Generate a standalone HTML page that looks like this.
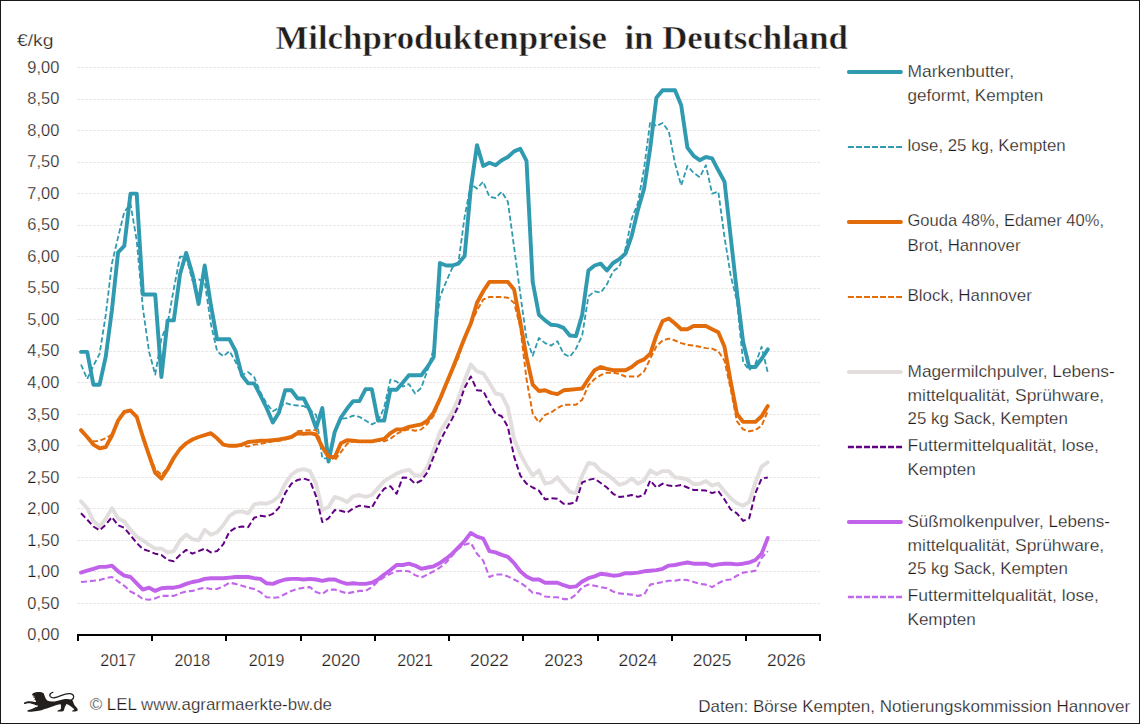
<!DOCTYPE html>
<html><head><meta charset="utf-8"><title>Milchproduktenpreise in Deutschland</title>
<style>
html,body{margin:0;padding:0;background:#fff;}
body{width:1140px;height:724px;overflow:hidden;}
svg{display:block;}
text{font-family:"Liberation Sans",sans-serif;fill:#1f1b19;stroke:#fff;stroke-width:0.25px;}
.t{font-family:"Liberation Serif",serif;font-weight:700;fill:#221e1b;stroke:#fff;stroke-width:0.5px;}
.ln{fill:none;stroke-linejoin:round;stroke-linecap:round;}
.ds{fill:none;stroke-linejoin:round;stroke-linecap:butt;}
</style></head><body>
<svg width="1140" height="724" viewBox="0 0 1140 724">
<rect x="0" y="0" width="1140" height="724" fill="#fff"/>

<g stroke="#ebe8e7" stroke-width="1" stroke-dasharray="3 1" shape-rendering="crispEdges">
<line x1="77" y1="603.5" x2="821" y2="603.5"/>
<line x1="77" y1="571.5" x2="821" y2="571.5"/>
<line x1="77" y1="540.5" x2="821" y2="540.5"/>
<line x1="77" y1="508.5" x2="821" y2="508.5"/>
<line x1="77" y1="477.5" x2="821" y2="477.5"/>
<line x1="77" y1="445.5" x2="821" y2="445.5"/>
<line x1="77" y1="414.5" x2="821" y2="414.5"/>
<line x1="77" y1="382.5" x2="821" y2="382.5"/>
<line x1="77" y1="351.5" x2="821" y2="351.5"/>
<line x1="77" y1="319.5" x2="821" y2="319.5"/>
<line x1="77" y1="288.5" x2="821" y2="288.5"/>
<line x1="77" y1="256.5" x2="821" y2="256.5"/>
<line x1="77" y1="225.5" x2="821" y2="225.5"/>
<line x1="77" y1="193.5" x2="821" y2="193.5"/>
<line x1="77" y1="162.5" x2="821" y2="162.5"/>
<line x1="77" y1="130.5" x2="821" y2="130.5"/>
<line x1="77" y1="99.5" x2="821" y2="99.5"/>
<line x1="77" y1="67.5" x2="821" y2="67.5"/>
</g>
<g font-size="15.9">
<text x="27.3" y="640.2" textLength="32.0" lengthAdjust="spacingAndGlyphs">0,00</text>
<text x="27.3" y="608.7" textLength="32.0" lengthAdjust="spacingAndGlyphs">0,50</text>
<text x="27.3" y="577.1" textLength="32.0" lengthAdjust="spacingAndGlyphs">1,00</text>
<text x="27.3" y="545.6" textLength="32.0" lengthAdjust="spacingAndGlyphs">1,50</text>
<text x="27.3" y="514.1" textLength="32.0" lengthAdjust="spacingAndGlyphs">2,00</text>
<text x="27.3" y="482.6" textLength="32.0" lengthAdjust="spacingAndGlyphs">2,50</text>
<text x="27.3" y="451.0" textLength="32.0" lengthAdjust="spacingAndGlyphs">3,00</text>
<text x="27.3" y="419.5" textLength="32.0" lengthAdjust="spacingAndGlyphs">3,50</text>
<text x="27.3" y="388.0" textLength="32.0" lengthAdjust="spacingAndGlyphs">4,00</text>
<text x="27.3" y="356.4" textLength="32.0" lengthAdjust="spacingAndGlyphs">4,50</text>
<text x="27.3" y="324.9" textLength="32.0" lengthAdjust="spacingAndGlyphs">5,00</text>
<text x="27.3" y="293.4" textLength="32.0" lengthAdjust="spacingAndGlyphs">5,50</text>
<text x="27.3" y="261.9" textLength="32.0" lengthAdjust="spacingAndGlyphs">6,00</text>
<text x="27.3" y="230.3" textLength="32.0" lengthAdjust="spacingAndGlyphs">6,50</text>
<text x="27.3" y="198.8" textLength="32.0" lengthAdjust="spacingAndGlyphs">7,00</text>
<text x="27.3" y="167.3" textLength="32.0" lengthAdjust="spacingAndGlyphs">7,50</text>
<text x="27.3" y="135.8" textLength="32.0" lengthAdjust="spacingAndGlyphs">8,00</text>
<text x="27.3" y="104.2" textLength="32.0" lengthAdjust="spacingAndGlyphs">8,50</text>
<text x="27.3" y="72.7" textLength="32.0" lengthAdjust="spacingAndGlyphs">9,00</text>
</g>
<text x="17" y="46" font-size="16" textLength="36.5" lengthAdjust="spacingAndGlyphs">€/kg</text>
<path class="ln" d="M81.0,351.9 L87.2,351.9 L93.4,384.7 L99.6,384.7 L105.7,356.9 L111.9,310.3 L118.1,252.3 L124.3,245.9 L130.5,193.6 L136.7,193.6 L142.9,294.5 L149.1,294.5 L155.2,294.5 L161.4,377.1 L167.6,320.4 L173.8,320.4 L180.0,274.3 L186.2,252.9 L192.4,273.7 L198.6,304.0 L204.7,265.5 L210.9,305.2 L217.1,339.3 L223.3,339.3 L229.5,339.3 L235.7,351.2 L241.9,375.2 L248.1,383.4 L254.2,383.4 L260.4,395.4 L266.6,408.0 L272.8,422.5 L279.0,412.4 L285.2,390.3 L291.4,390.3 L297.6,398.5 L303.7,398.5 L309.9,410.5 L316.1,428.2 L322.3,408.0 L328.5,461.6 L334.7,432.0 L340.9,417.5 L347.1,408.6 L353.2,401.1 L359.4,401.1 L365.6,389.1 L371.8,389.1 L378.0,420.6 L384.2,420.6 L390.4,389.7 L396.6,389.7 L402.7,382.8 L408.9,375.2 L415.1,375.2 L421.3,375.2 L427.5,367.0 L433.7,356.9 L439.9,263.0 L446.1,265.5 L452.2,265.5 L458.4,263.6 L464.6,256.0 L470.8,188.6 L477.0,145.1 L483.2,165.9 L489.4,162.7 L495.6,165.2 L501.7,160.2 L507.9,157.0 L514.1,151.4 L520.3,148.8 L526.5,160.8 L532.7,281.9 L538.9,314.7 L545.1,320.4 L551.2,324.8 L557.4,325.4 L563.6,327.9 L569.8,335.5 L576.0,336.1 L582.2,314.7 L588.4,270.5 L594.6,265.5 L600.7,263.6 L606.9,270.5 L613.1,263.0 L619.3,259.2 L625.5,253.5 L631.7,235.9 L637.9,210.0 L644.1,188.6 L650.2,148.2 L656.4,97.8 L662.6,90.2 L668.8,90.2 L675.0,90.2 L681.2,105.3 L687.4,147.6 L693.6,155.8 L699.7,160.2 L705.9,157.0 L712.1,158.3 L718.3,170.3 L724.5,181.6 L730.7,237.1 L736.9,292.0 L743.1,341.8 L749.2,367.0 L755.4,367.0 L761.6,358.8 L767.8,349.4" stroke="#2f9ab0" stroke-width="3.9"/>
<path class="ds" d="M81.0,364.5 L87.2,379.0 L93.4,365.8 L99.6,353.8 L105.7,315.3 L111.9,263.6 L118.1,237.1 L124.3,211.9 L130.5,203.7 L136.7,240.3 L142.9,308.4 L149.1,351.9 L155.2,374.6 L161.4,338.6 L167.6,323.5 L173.8,288.8 L180.0,256.7 L186.2,256.7 L192.4,280.6 L198.6,279.4 L204.7,281.9 L210.9,324.1 L217.1,351.2 L223.3,356.3 L229.5,351.2 L235.7,362.0 L241.9,375.2 L248.1,372.1 L254.2,377.1 L260.4,392.2 L266.6,403.6 L272.8,411.2 L279.0,408.0 L285.2,403.0 L291.4,404.8 L297.6,405.5 L303.7,406.1 L309.9,409.9 L316.1,414.9 L322.3,458.4 L328.5,458.4 L334.7,433.2 L340.9,418.7 L347.1,418.1 L353.2,415.6 L359.4,416.8 L365.6,420.6 L371.8,424.4 L378.0,421.2 L384.2,407.4 L390.4,379.6 L396.6,381.5 L402.7,386.6 L408.9,384.0 L415.1,393.5 L421.3,387.8 L427.5,370.2 L433.7,348.7 L439.9,297.0 L446.1,281.9 L452.2,268.0 L458.4,263.0 L464.6,216.9 L470.8,184.2 L477.0,188.6 L483.2,181.6 L489.4,196.8 L495.6,198.0 L501.7,191.7 L507.9,201.8 L514.1,247.2 L520.3,293.9 L526.5,338.6 L532.7,355.7 L538.9,338.0 L545.1,343.1 L551.2,345.6 L557.4,341.2 L563.6,353.8 L569.8,356.9 L576.0,348.7 L582.2,335.5 L588.4,296.4 L594.6,291.3 L600.7,292.6 L606.9,284.4 L613.1,271.2 L619.3,266.8 L625.5,248.5 L631.7,218.8 L637.9,203.1 L644.1,168.4 L650.2,121.7 L656.4,126.1 L662.6,123.0 L668.8,131.2 L675.0,163.3 L681.2,185.4 L687.4,165.9 L693.6,172.8 L699.7,177.2 L705.9,165.2 L712.1,193.6 L718.3,191.7 L724.5,237.1 L730.7,275.6 L736.9,300.8 L743.1,362.0 L749.2,370.2 L755.4,363.9 L761.6,346.8 L767.8,372.7" stroke="#2f9ab0" stroke-width="1.8" stroke-dasharray="5.3 2.6"/>
<path class="ln" d="M81.0,430.1 L87.2,437.0 L93.4,444.6 L99.6,448.4 L105.7,447.1 L111.9,435.7 L118.1,420.6 L124.3,411.8 L130.5,410.5 L136.7,416.8 L142.9,437.0 L149.1,455.3 L155.2,472.9 L161.4,478.6 L167.6,469.2 L173.8,457.8 L180.0,449.0 L186.2,443.3 L192.4,439.5 L198.6,437.0 L204.7,435.1 L210.9,433.2 L217.1,438.3 L223.3,444.6 L229.5,445.8 L235.7,445.8 L241.9,444.6 L248.1,442.0 L254.2,441.4 L260.4,440.8 L266.6,440.8 L272.8,440.2 L279.0,439.5 L285.2,438.3 L291.4,437.0 L297.6,433.2 L303.7,433.9 L309.9,433.2 L316.1,434.5 L322.3,447.1 L328.5,456.6 L334.7,457.2 L340.9,443.3 L347.1,440.2 L353.2,440.8 L359.4,441.4 L365.6,441.4 L371.8,441.4 L378.0,440.2 L384.2,438.9 L390.4,433.2 L396.6,429.4 L402.7,429.4 L408.9,426.9 L415.1,425.7 L421.3,424.4 L427.5,420.6 L433.7,412.4 L439.9,399.2 L446.1,384.0 L452.2,369.5 L458.4,353.8 L464.6,338.0 L470.8,323.5 L477.0,302.7 L483.2,291.3 L489.4,281.9 L495.6,281.9 L501.7,281.9 L507.9,281.9 L514.1,289.5 L520.3,322.2 L526.5,356.9 L532.7,384.7 L538.9,391.0 L545.1,390.3 L551.2,392.9 L557.4,394.1 L563.6,390.3 L569.8,389.7 L576.0,389.1 L582.2,388.5 L588.4,379.0 L594.6,370.2 L600.7,367.0 L606.9,368.9 L613.1,370.2 L619.3,370.2 L625.5,370.2 L631.7,367.0 L637.9,362.0 L644.1,359.4 L650.2,353.8 L656.4,335.5 L662.6,321.0 L668.8,318.5 L675.0,323.5 L681.2,329.2 L687.4,329.2 L693.6,326.0 L699.7,326.0 L705.9,326.0 L712.1,329.2 L718.3,332.3 L724.5,346.8 L730.7,381.5 L736.9,413.7 L743.1,421.9 L749.2,421.9 L755.4,421.9 L761.6,416.2 L767.8,406.1" stroke="#e36c0a" stroke-width="3.9"/>
<path class="ds" d="M81.0,430.1 L87.2,437.0 L93.4,441.4 L99.6,440.8 L105.7,438.3 L111.9,434.5 L118.1,420.6 L124.3,411.8 L130.5,410.5 L136.7,416.8 L142.9,437.0 L149.1,454.0 L155.2,469.2 L161.4,474.8 L167.6,467.9 L173.8,457.8 L180.0,449.0 L186.2,443.3 L192.4,439.5 L198.6,437.0 L204.7,435.1 L210.9,433.2 L217.1,438.3 L223.3,444.6 L229.5,445.8 L235.7,446.5 L241.9,445.8 L248.1,446.5 L254.2,444.6 L260.4,443.9 L266.6,442.7 L272.8,441.4 L279.0,440.8 L285.2,439.5 L291.4,437.6 L297.6,431.3 L303.7,430.7 L309.9,430.1 L316.1,430.1 L322.3,445.8 L328.5,455.3 L334.7,460.3 L340.9,452.1 L347.1,443.9 L353.2,441.4 L359.4,441.4 L365.6,441.4 L371.8,441.4 L378.0,440.8 L384.2,441.4 L390.4,438.9 L396.6,433.9 L402.7,430.7 L408.9,429.4 L415.1,430.7 L421.3,429.4 L427.5,423.8 L433.7,415.6 L439.9,400.4 L446.1,385.9 L452.2,371.4 L458.4,357.6 L464.6,337.4 L470.8,324.8 L477.0,310.3 L483.2,299.5 L489.4,297.0 L495.6,297.0 L501.7,297.0 L507.9,297.7 L514.1,302.7 L520.3,327.3 L526.5,379.0 L532.7,413.7 L538.9,422.5 L545.1,414.9 L551.2,412.4 L557.4,408.0 L563.6,404.8 L569.8,404.8 L576.0,404.8 L582.2,399.8 L588.4,385.3 L594.6,379.0 L600.7,375.2 L606.9,372.7 L613.1,372.7 L619.3,373.9 L625.5,376.5 L631.7,376.5 L637.9,376.5 L644.1,371.4 L650.2,358.8 L656.4,346.2 L662.6,340.5 L668.8,338.6 L675.0,340.5 L681.2,343.1 L687.4,344.9 L693.6,345.6 L699.7,346.8 L705.9,348.1 L712.1,348.7 L718.3,351.2 L724.5,360.7 L730.7,389.1 L736.9,421.2 L743.1,429.4 L749.2,431.3 L755.4,430.1 L761.6,425.7 L767.8,411.2" stroke="#e36c0a" stroke-width="1.95" stroke-dasharray="5.4 2.6"/>
<path class="ln" d="M81.0,501.3 L87.2,508.3 L93.4,520.9 L99.6,526.5 L105.7,519.0 L111.9,508.3 L118.1,518.3 L124.3,521.5 L130.5,529.7 L136.7,536.6 L142.9,540.4 L149.1,544.8 L155.2,548.6 L161.4,548.6 L167.6,552.4 L173.8,551.1 L180.0,540.4 L186.2,534.7 L192.4,539.2 L198.6,540.4 L204.7,529.7 L210.9,534.7 L217.1,532.2 L223.3,525.3 L229.5,515.8 L235.7,512.0 L241.9,511.4 L248.1,513.3 L254.2,504.5 L260.4,503.2 L266.6,503.8 L272.8,501.3 L279.0,496.3 L285.2,483.7 L291.4,474.8 L297.6,470.4 L303.7,469.2 L309.9,471.1 L316.1,483.7 L322.3,510.1 L328.5,507.0 L334.7,496.9 L340.9,498.8 L347.1,502.0 L353.2,496.3 L359.4,495.0 L365.6,496.9 L371.8,495.0 L378.0,488.1 L384.2,481.1 L390.4,477.4 L396.6,473.6 L402.7,471.1 L408.9,469.8 L415.1,475.5 L421.3,475.5 L427.5,466.6 L433.7,450.2 L439.9,432.0 L446.1,421.9 L452.2,412.4 L458.4,398.5 L464.6,380.3 L470.8,364.5 L477.0,371.4 L483.2,373.3 L489.4,382.8 L495.6,393.5 L501.7,394.8 L507.9,407.4 L514.1,438.9 L520.3,454.0 L526.5,465.4 L532.7,475.5 L538.9,470.4 L545.1,483.7 L551.2,482.4 L557.4,477.4 L563.6,484.9 L569.8,491.9 L576.0,493.1 L582.2,475.5 L588.4,462.9 L594.6,464.1 L600.7,471.1 L606.9,474.2 L613.1,479.3 L619.3,484.9 L625.5,483.0 L631.7,478.6 L637.9,483.7 L644.1,480.5 L650.2,470.4 L656.4,474.2 L662.6,471.1 L668.8,471.1 L675.0,477.4 L681.2,478.0 L687.4,479.3 L693.6,484.3 L699.7,483.7 L705.9,481.1 L712.1,485.6 L718.3,483.7 L724.5,491.2 L730.7,498.2 L736.9,503.2 L743.1,505.7 L749.2,502.0 L755.4,482.4 L761.6,466.6 L767.8,462.2" stroke="#e2dedd" stroke-width="3.9"/>
<path class="ds" d="M81.0,513.3 L87.2,519.6 L93.4,526.5 L99.6,530.3 L105.7,524.7 L111.9,517.1 L118.1,525.3 L124.3,527.8 L130.5,535.4 L136.7,542.9 L142.9,549.2 L149.1,551.1 L155.2,553.7 L161.4,554.9 L167.6,560.0 L173.8,561.2 L180.0,554.9 L186.2,549.9 L192.4,553.7 L198.6,551.1 L204.7,548.6 L210.9,552.4 L217.1,551.1 L223.3,544.2 L229.5,531.6 L235.7,527.8 L241.9,526.5 L248.1,527.2 L254.2,517.7 L260.4,515.8 L266.6,516.5 L272.8,513.9 L279.0,507.6 L285.2,493.1 L291.4,483.7 L297.6,479.9 L303.7,478.6 L309.9,480.5 L316.1,496.3 L322.3,522.1 L328.5,518.3 L334.7,510.1 L340.9,510.8 L347.1,512.7 L353.2,508.3 L359.4,505.7 L365.6,506.4 L371.8,507.6 L378.0,496.9 L384.2,488.7 L390.4,486.2 L396.6,493.8 L402.7,477.4 L408.9,478.0 L415.1,483.7 L421.3,480.5 L427.5,472.3 L433.7,456.6 L439.9,441.4 L446.1,429.4 L452.2,418.7 L458.4,406.1 L464.6,387.8 L470.8,376.5 L477.0,390.3 L483.2,391.0 L489.4,403.0 L495.6,413.7 L501.7,416.2 L507.9,426.9 L514.1,456.6 L520.3,475.5 L526.5,483.7 L532.7,487.5 L538.9,490.6 L545.1,499.4 L551.2,498.2 L557.4,498.8 L563.6,503.8 L569.8,503.8 L576.0,502.0 L582.2,482.4 L588.4,479.9 L594.6,478.6 L600.7,483.0 L606.9,487.5 L613.1,493.8 L619.3,496.9 L625.5,496.3 L631.7,495.0 L637.9,496.9 L644.1,495.0 L650.2,480.5 L656.4,487.5 L662.6,483.7 L668.8,485.6 L675.0,486.2 L681.2,484.9 L687.4,487.5 L693.6,490.0 L699.7,490.0 L705.9,490.6 L712.1,493.1 L718.3,491.2 L724.5,499.4 L730.7,509.5 L736.9,513.3 L743.1,520.9 L749.2,518.3 L755.4,493.1 L761.6,478.6 L767.8,477.4" stroke="#620084" stroke-width="2.0" stroke-dasharray="6 3"/>
<path class="ln" d="M81.0,572.6 L87.2,570.7 L93.4,568.8 L99.6,566.9 L105.7,566.9 L111.9,565.6 L118.1,571.3 L124.3,575.7 L130.5,577.0 L136.7,583.3 L142.9,589.6 L149.1,587.7 L155.2,590.9 L161.4,588.3 L167.6,587.7 L173.8,587.7 L180.0,586.4 L186.2,583.9 L192.4,582.0 L198.6,580.8 L204.7,578.9 L210.9,578.2 L217.1,578.2 L223.3,578.2 L229.5,577.6 L235.7,577.0 L241.9,577.0 L248.1,577.0 L254.2,578.2 L260.4,578.9 L266.6,583.3 L272.8,583.9 L279.0,581.4 L285.2,579.5 L291.4,578.9 L297.6,578.9 L303.7,579.5 L309.9,578.9 L316.1,579.5 L322.3,580.8 L328.5,579.5 L334.7,579.5 L340.9,582.0 L347.1,583.9 L353.2,583.3 L359.4,583.9 L365.6,583.9 L371.8,582.7 L378.0,579.5 L384.2,574.5 L390.4,570.1 L396.6,565.0 L402.7,565.0 L408.9,563.7 L415.1,565.6 L421.3,568.8 L427.5,567.5 L433.7,566.3 L439.9,563.1 L446.1,558.7 L452.2,553.7 L458.4,547.4 L464.6,541.0 L470.8,532.9 L477.0,536.6 L483.2,538.5 L489.4,551.1 L495.6,552.4 L501.7,554.9 L507.9,556.8 L514.1,563.1 L520.3,571.3 L526.5,576.4 L532.7,579.5 L538.9,579.5 L545.1,582.7 L551.2,582.7 L557.4,582.7 L563.6,585.2 L569.8,587.1 L576.0,586.4 L582.2,581.4 L588.4,578.2 L594.6,576.4 L600.7,573.8 L606.9,574.5 L613.1,575.7 L619.3,575.1 L625.5,573.2 L631.7,573.2 L637.9,572.6 L644.1,571.3 L650.2,570.7 L656.4,570.1 L662.6,568.8 L668.8,565.6 L675.0,565.0 L681.2,563.7 L687.4,562.5 L693.6,563.7 L699.7,563.7 L705.9,563.7 L712.1,565.6 L718.3,564.4 L724.5,563.7 L730.7,563.7 L736.9,564.4 L743.1,563.7 L749.2,562.5 L755.4,560.0 L761.6,553.7 L767.8,537.9" stroke="#c163ea" stroke-width="3.9"/>
<path class="ds" d="M81.0,582.0 L87.2,581.4 L93.4,580.8 L99.6,580.1 L105.7,578.2 L111.9,577.0 L118.1,581.4 L124.3,585.8 L130.5,591.5 L136.7,594.6 L142.9,599.1 L149.1,599.7 L155.2,598.4 L161.4,595.9 L167.6,595.9 L173.8,595.9 L180.0,593.4 L186.2,591.5 L192.4,590.9 L198.6,589.0 L204.7,587.7 L210.9,589.0 L217.1,589.0 L223.3,586.4 L229.5,582.7 L235.7,583.9 L241.9,585.8 L248.1,587.7 L254.2,589.0 L260.4,592.1 L266.6,597.2 L272.8,597.8 L279.0,597.2 L285.2,594.0 L291.4,590.9 L297.6,589.0 L303.7,587.7 L309.9,587.1 L316.1,592.1 L322.3,594.0 L328.5,589.6 L334.7,589.6 L340.9,591.5 L347.1,593.4 L353.2,592.1 L359.4,590.9 L365.6,590.9 L371.8,587.1 L378.0,581.4 L384.2,577.0 L390.4,573.8 L396.6,571.3 L402.7,570.7 L408.9,571.3 L415.1,575.1 L421.3,577.6 L427.5,574.5 L433.7,571.3 L439.9,567.5 L446.1,562.5 L452.2,555.5 L458.4,548.6 L464.6,544.8 L470.8,542.9 L477.0,553.7 L483.2,560.6 L489.4,577.0 L495.6,574.5 L501.7,574.5 L507.9,576.4 L514.1,579.5 L520.3,582.7 L526.5,587.1 L532.7,592.8 L538.9,593.4 L545.1,596.5 L551.2,597.2 L557.4,597.2 L563.6,599.1 L569.8,599.1 L576.0,594.6 L582.2,587.1 L588.4,584.6 L594.6,585.8 L600.7,587.1 L606.9,588.3 L613.1,591.5 L619.3,593.4 L625.5,594.0 L631.7,594.6 L637.9,595.9 L644.1,594.6 L650.2,584.6 L656.4,583.3 L662.6,582.0 L668.8,580.8 L675.0,580.8 L681.2,579.5 L687.4,580.1 L693.6,582.0 L699.7,583.9 L705.9,584.6 L712.1,587.1 L718.3,583.3 L724.5,580.1 L730.7,579.5 L736.9,575.7 L743.1,572.6 L749.2,571.9 L755.4,570.7 L761.6,558.1 L767.8,551.1" stroke="#c266ea" stroke-width="2.1" stroke-dasharray="6 3"/>
<g fill="#000" shape-rendering="crispEdges">
<rect x="77" y="634" width="744" height="2"/>
<rect x="77" y="634" width="2" height="7"/>
<rect x="151" y="634" width="2" height="7"/>
<rect x="225" y="634" width="2" height="7"/>
<rect x="300" y="634" width="2" height="7"/>
<rect x="374" y="634" width="2" height="7"/>
<rect x="448" y="634" width="2" height="7"/>
<rect x="522" y="634" width="2" height="7"/>
<rect x="597" y="634" width="2" height="7"/>
<rect x="671" y="634" width="2" height="7"/>
<rect x="745" y="634" width="2" height="7"/>
<rect x="819" y="634" width="2" height="7"/>
</g>
<g font-size="16.4" text-anchor="middle">
<text x="118.1" y="666" textLength="35.6" lengthAdjust="spacingAndGlyphs">2017</text>
<text x="192.4" y="666" textLength="35.6" lengthAdjust="spacingAndGlyphs">2018</text>
<text x="266.6" y="666" textLength="35.6" lengthAdjust="spacingAndGlyphs">2019</text>
<text x="340.9" y="666" textLength="38.6" lengthAdjust="spacingAndGlyphs">2020</text>
<text x="415.1" y="666" textLength="35.6" lengthAdjust="spacingAndGlyphs">2021</text>
<text x="489.4" y="666" textLength="38.6" lengthAdjust="spacingAndGlyphs">2022</text>
<text x="563.6" y="666" textLength="38.6" lengthAdjust="spacingAndGlyphs">2023</text>
<text x="637.9" y="666" textLength="38.6" lengthAdjust="spacingAndGlyphs">2024</text>
<text x="712.1" y="666" textLength="38.6" lengthAdjust="spacingAndGlyphs">2025</text>
<text x="786.4" y="666" textLength="38.6" lengthAdjust="spacingAndGlyphs">2026</text>
</g>
<text class="t" x="275.4" y="48.5" font-size="33" textLength="572.6" lengthAdjust="spacingAndGlyphs" xml:space="preserve">Milchproduktenpreise  in Deutschland</text>
<line x1="848.9" y1="72.0" x2="900.9" y2="72.0" stroke="#2f9ab0" stroke-width="4" stroke-linecap="round"/>
<text x="907.5" y="76.8" font-size="16.2" textLength="106.5" lengthAdjust="spacingAndGlyphs">Markenbutter,</text>
<text x="907.5" y="100.5" font-size="16.2" textLength="135.7" lengthAdjust="spacingAndGlyphs">geformt, Kempten</text>
<line x1="847.9" y1="147" x2="902.1" y2="147" stroke="#2f9ab0" stroke-width="2.1" stroke-dasharray="6 2.03"/>
<text x="907.5" y="151.3" font-size="16.2" textLength="158.2" lengthAdjust="spacingAndGlyphs">lose, 25 kg, Kempten</text>
<line x1="848.9" y1="222.0" x2="900.9" y2="222.0" stroke="#e36c0a" stroke-width="4" stroke-linecap="round"/>
<text x="907.5" y="226.3" font-size="16.2" textLength="196.5" lengthAdjust="spacingAndGlyphs">Gouda 48%, Edamer 40%,</text>
<text x="907.5" y="250.5" font-size="16.2" textLength="113.0" lengthAdjust="spacingAndGlyphs">Brot, Hannover</text>
<line x1="847.9" y1="297" x2="902.1" y2="297" stroke="#e36c0a" stroke-width="2.1" stroke-dasharray="6 2.03"/>
<text x="907.5" y="301.3" font-size="16.2" textLength="124.3" lengthAdjust="spacingAndGlyphs">Block, Hannover</text>
<line x1="848.9" y1="372.0" x2="900.9" y2="372.0" stroke="#e2dedd" stroke-width="4" stroke-linecap="round"/>
<text x="907.5" y="376.8" font-size="16.2" textLength="207.2" lengthAdjust="spacingAndGlyphs">Magermilchpulver, Lebens-</text>
<text x="907.5" y="400.5" font-size="16.2" textLength="196.7" lengthAdjust="spacingAndGlyphs">mittelqualität, Sprühware,</text>
<text x="907.5" y="423.7" font-size="16.2" textLength="160.4" lengthAdjust="spacingAndGlyphs">25 kg Sack, Kempten</text>
<line x1="847.9" y1="447" x2="902.1" y2="447" stroke="#620084" stroke-width="2.5" stroke-dasharray="6 2.03"/>
<text x="907.5" y="451.3" font-size="16.2" textLength="191.4" lengthAdjust="spacingAndGlyphs">Futtermittelqualität, lose,</text>
<text x="907.5" y="475" font-size="16.2" textLength="68.3" lengthAdjust="spacingAndGlyphs">Kempten</text>
<line x1="848.9" y1="522.0" x2="900.9" y2="522.0" stroke="#c163ea" stroke-width="4" stroke-linecap="round"/>
<text x="907.5" y="526.8" font-size="16.2" textLength="202.5" lengthAdjust="spacingAndGlyphs">Süßmolkenpulver, Lebens-</text>
<text x="907.5" y="550.5" font-size="16.2" textLength="196.7" lengthAdjust="spacingAndGlyphs">mittelqualität, Sprühware,</text>
<text x="907.5" y="573.7" font-size="16.2" textLength="160.4" lengthAdjust="spacingAndGlyphs">25 kg Sack, Kempten</text>
<line x1="847.9" y1="597" x2="902.1" y2="597" stroke="#c266ea" stroke-width="2.3" stroke-dasharray="6 2.03"/>
<text x="907.5" y="601.3" font-size="16.2" textLength="191.4" lengthAdjust="spacingAndGlyphs">Futtermittelqualität, lose,</text>
<text x="907.5" y="625" font-size="16.2" textLength="68.3" lengthAdjust="spacingAndGlyphs">Kempten</text>
<text x="89.7" y="709.5" font-size="16.4" textLength="242.3" lengthAdjust="spacingAndGlyphs">© LEL www.agrarmaerkte-bw.de</text>
<text x="698.2" y="711.8" font-size="16.6" textLength="432" lengthAdjust="spacingAndGlyphs">Daten: Börse Kempten, Notierungskommission Hannover</text>
<g transform="translate(18,686) scale(0.0579)" fill="#221f1d" stroke="none">
<path d="M340,103 C380,100 420,108 442,125 C455,150 462,180 472,205 C480,225 490,240 505,250 C540,268 600,272 650,265 C700,258 740,240 790,230 C840,222 890,225 925,237 C945,250 952,268 958,290 C965,320 985,345 1010,372 C1030,392 1036,412 1028,428 C1015,440 985,443 945,441 C930,438 930,428 945,422 C960,416 975,410 972,402 C955,385 925,362 890,338 C870,326 850,318 838,312 C822,335 812,355 805,375 C798,400 795,420 785,432 C770,442 730,443 692,441 C676,438 676,427 690,421 C710,414 730,410 737,402 C745,380 746,350 738,315 C715,318 690,322 665,330 C620,345 570,365 520,382 C490,392 460,400 440,405 C410,418 370,428 330,432 C290,440 240,446 205,446 C180,447 160,443 158,433 C160,422 185,416 215,408 C250,398 285,380 315,360 C330,350 340,345 345,340 C330,338 315,334 300,328 C280,318 255,308 235,305 C210,300 185,297 165,300 C145,304 125,315 110,312 C98,306 100,293 115,282 C135,268 170,262 200,262 C235,262 265,268 290,275 C300,278 308,280 312,276 C310,262 305,250 298,243 C290,238 282,236 280,228 C284,222 292,220 296,214 C294,206 285,204 272,200 C262,196 255,192 254,185 C262,182 275,184 285,182 C288,176 282,170 270,168 C255,166 245,160 243,150 C248,135 262,125 280,118 C300,110 320,104 340,103 Z"/>
<path d="M350,336 L292,352 L325,366 Z" fill="#fff"/>
<path d="M925,240 C950,225 965,205 962,180 C958,150 930,132 890,130 C840,128 790,145 740,165 C700,182 660,198 625,203 C595,206 570,198 555,178 C545,160 552,138 570,125 C580,118 592,112 603,108" fill="none" stroke="#221f1d" stroke-width="22" stroke-linecap="round"/>
</g>
<rect x="0.5" y="0.5" width="1139" height="723" fill="none" stroke="#1b1714" stroke-width="1"/>
</svg></body></html>
